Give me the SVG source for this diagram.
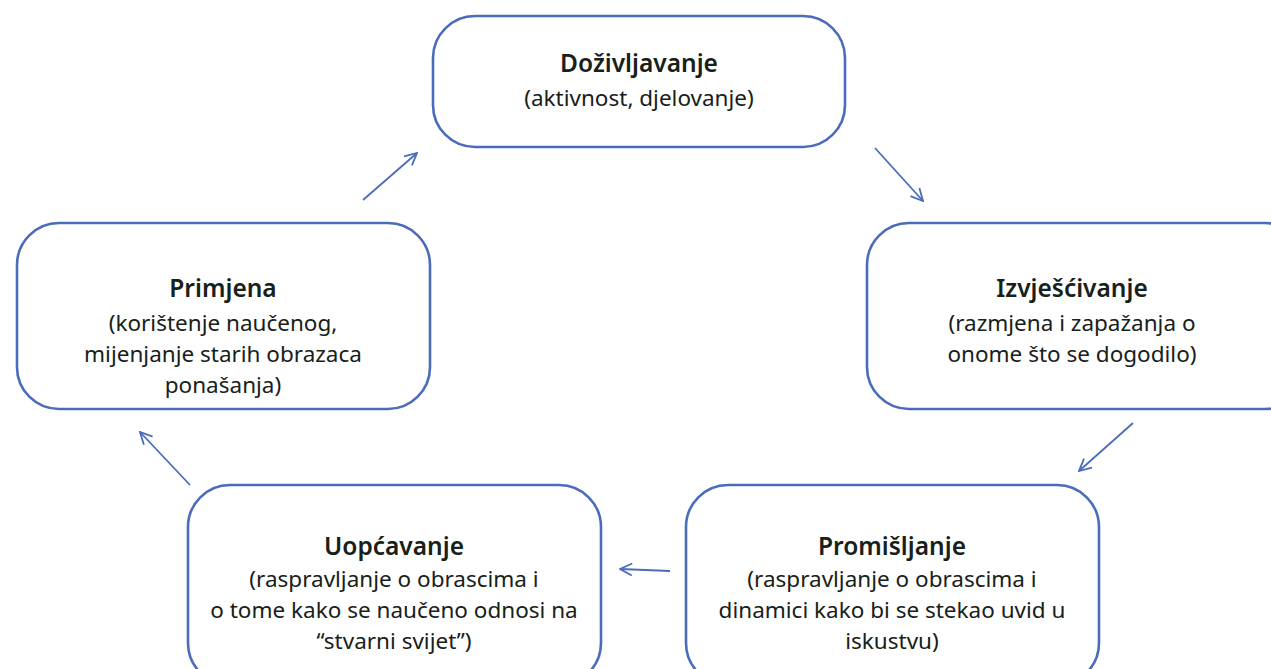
<svg xmlns="http://www.w3.org/2000/svg" width="1271" height="669" viewBox="0 0 1271 669">
<style>
.box{fill:#fff;stroke:#4a6cbb;stroke-width:2.6}
.t{font-family:"Noto Sans","Open Sans",sans-serif;fill:#17211a;text-anchor:middle}
.h{font-size:24.5px;font-weight:600}
.b{font-size:22.5px}
.c{stroke:#4a6cbb;stroke-width:1.8;fill:none;marker-end:url(#ah)}
</style>
<defs>
<marker id="ah" viewBox="0 0 14 14" refX="13" refY="7" markerWidth="14" markerHeight="14" markerUnits="userSpaceOnUse" orient="auto">
<path d="M1,1 L13,7 L1,13" fill="none" stroke="#4a6cbb" stroke-width="1.8"/>
</marker>
</defs>
<rect width="1271" height="669" fill="#fff"/>
<g id="connectors">
<line class="c" x1="363" y1="200" x2="417" y2="153"/>
<line class="c" x1="875" y1="148" x2="923" y2="201"/>
<line class="c" x1="1133" y1="423" x2="1079" y2="471"/>
<line class="c" x1="670" y1="571" x2="620" y2="569"/>
<line class="c" x1="190" y1="485" x2="140" y2="432"/>
</g>
<g id="n1">
<rect class="box" x="433" y="16" width="412" height="131" rx="42"/>
<text class="t h" x="639" y="72">Doživljavanje</text>
<text class="t b" x="639" y="106">(aktivnost, djelovanje)</text>
</g>
<g id="n2">
<rect class="box" x="867" y="223" width="440" height="186" rx="42"/>
<text class="t h" x="1072" y="297">Izvješćivanje</text>
<text class="t b" x="1072" y="331">(razmjena i zapažanja o</text>
<text class="t b" x="1072" y="362">onome što se dogodilo)</text>
</g>
<g id="n3">
<rect class="box" x="686" y="485" width="413" height="200" rx="42"/>
<text class="t h" x="892" y="555">Promišljanje</text>
<text class="t b" x="892" y="587">(raspravljanje o obrascima i</text>
<text class="t b" x="892" y="618">dinamici kako bi se stekao uvid u</text>
<text class="t b" x="892" y="649">iskustvu)</text>
</g>
<g id="n4">
<rect class="box" x="188" y="485" width="413" height="200" rx="42"/>
<text class="t h" x="394" y="555">Uopćavanje</text>
<text class="t b" x="394" y="587">(raspravljanje o obrascima i</text>
<text class="t b" x="394" y="618">o tome kako se naučeno odnosi na</text>
<text class="t b" x="394" y="649">“stvarni svijet”)</text>
</g>
<g id="n5">
<rect class="box" x="17" y="223" width="413" height="186" rx="42"/>
<text class="t h" x="223" y="297">Primjena</text>
<text class="t b" x="223" y="331">(korištenje naučenog,</text>
<text class="t b" x="223" y="362">mijenjanje starih obrazaca</text>
<text class="t b" x="223" y="393">ponašanja)</text>
</g>
</svg>
